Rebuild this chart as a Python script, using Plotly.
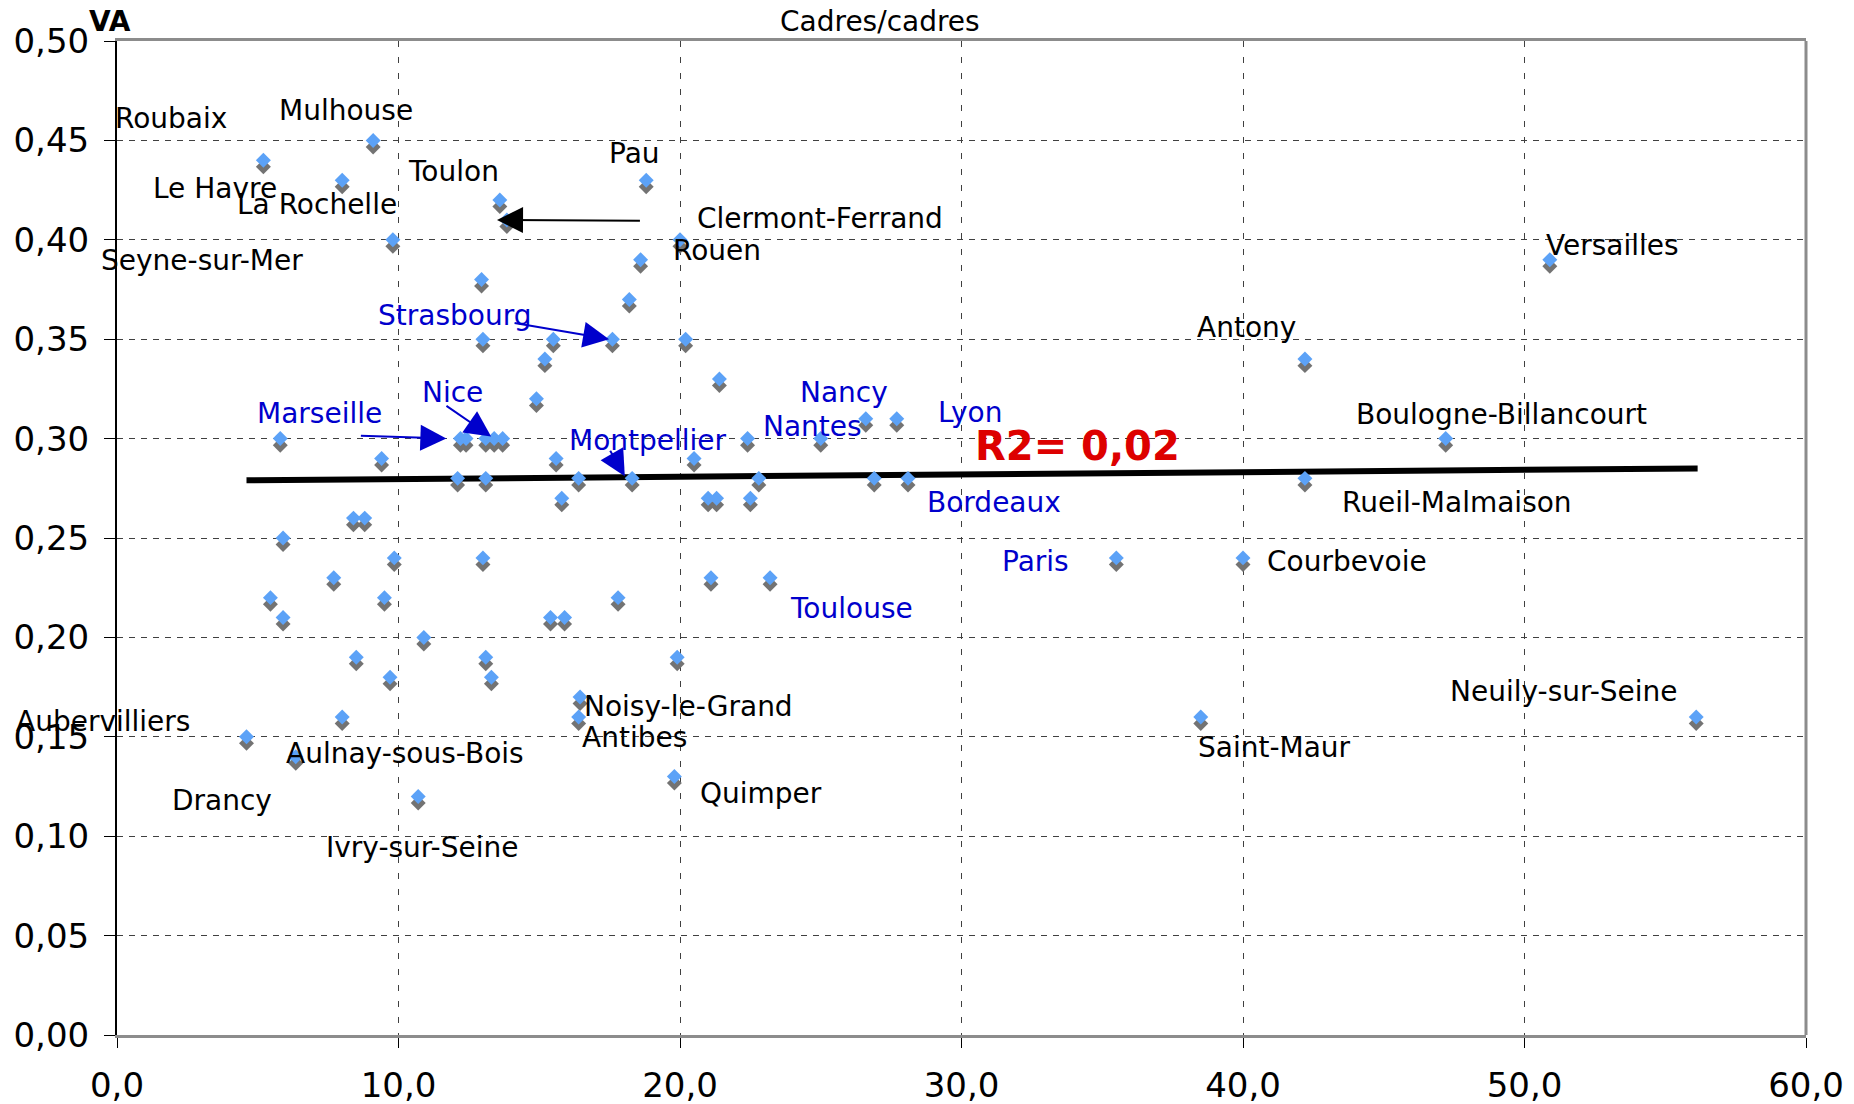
import plotly.graph_objects as go

# ---- data: scatter points (x = Cadres/cadres, y = VA) ----
pts_x = [5.2, 9.1, 8.0, 13.6, 13.85, 18.8, 20.0, 9.8, 18.6, 12.95, 18.2, 13.0, 15.5, 17.6,
         20.2, 15.2, 21.4, 14.9, 5.8, 12.2, 12.4, 13.1, 13.4, 13.7, 22.4, 25.0, 26.6, 27.7,
         47.2, 50.9, 42.2, 9.4, 15.6, 20.5, 12.1, 13.1, 16.4, 18.3, 22.8, 26.9, 28.1, 42.2,
         15.8, 21.0, 21.3, 22.5, 8.4, 8.8, 5.9, 9.85, 13.0, 35.5, 40.0, 7.7, 21.1, 23.2,
         5.45, 9.5, 17.8, 5.9, 15.4, 15.9, 10.9, 8.5, 13.1, 19.9, 9.7, 13.3, 16.45, 8.0,
         16.4, 38.5, 56.1, 4.6, 6.35, 19.8, 10.7]
pts_y = [0.44, 0.45, 0.43, 0.42, 0.41, 0.43, 0.40, 0.40, 0.39, 0.38, 0.37, 0.35, 0.35, 0.35,
         0.35, 0.34, 0.33, 0.32, 0.30, 0.30, 0.30, 0.30, 0.30, 0.30, 0.30, 0.30, 0.31, 0.31,
         0.30, 0.39, 0.34, 0.29, 0.29, 0.29, 0.28, 0.28, 0.28, 0.28, 0.28, 0.28, 0.28, 0.28,
         0.27, 0.27, 0.27, 0.27, 0.26, 0.26, 0.25, 0.24, 0.24, 0.24, 0.24, 0.23, 0.23, 0.23,
         0.22, 0.22, 0.22, 0.21, 0.21, 0.21, 0.20, 0.19, 0.19, 0.19, 0.18, 0.18, 0.17, 0.16,
         0.16, 0.16, 0.16, 0.15, 0.14, 0.13, 0.12]

# trend line endpoints
trend_x = [4.6, 56.15]
trend_y = [0.279, 0.285]

# city labels
lab_text = ["Roubaix", "Mulhouse", "Le Havre", "La Rochelle", "Toulon", "Pau",
            "Clermont-Ferrand", "Rouen", "Seyne-sur-Mer", "Versailles", "Strasbourg",
            "Antony", "Nice", "Nancy", "Marseille", "Lyon", "Boulogne-Billancourt",
            "Nantes", "Montpellier", "Bordeaux", "Rueil-Malmaison", "Paris", "Courbevoie",
            "Toulouse", "Neuily-sur-Seine", "Noisy-le-Grand", "Antibes", "Saint-Maur",
            "Aulnay-sous-Bois", "Quimper", "Drancy", "Ivry-sur-Seine"]
lab_x = [1.93, 8.15, 3.47, 7.12, 11.97, 18.4, 24.99, 21.32, 3.02, 53.13, 11.99,
         40.12, 11.93, 25.83, 7.18, 30.31, 49.2, 24.72, 18.88, 31.14, 47.61, 32.64, 43.7,
         26.1, 51.39, 20.31, 18.4, 41.12, 10.23, 22.89, 3.74, 10.82]
lab_y = [0.461, 0.465, 0.426, 0.4177, 0.4344, 0.4433, 0.4106, 0.3945, 0.3898, 0.3969, 0.3618,
         0.3559, 0.3231, 0.3231, 0.3125, 0.313, 0.3119, 0.306, 0.2988, 0.2679, 0.2679, 0.2381,
         0.2381, 0.2143, 0.1727, 0.165, 0.1495, 0.1447, 0.1417, 0.1216, 0.118, 0.0942]
lab_blue = ["Strasbourg", "Nice", "Nancy", "Marseille", "Lyon", "Nantes", "Montpellier",
            "Bordeaux", "Paris", "Toulouse"]
# label anchored by its right edge (left edge lies outside the axis)
right_text = ["Aubervilliers"]
right_x = [2.65]
right_y = [0.1575]

# arrows: (tail x, tail y) -> (head x, head y)
arr_tail_x = [18.63, 14.07, 8.61, 11.65, 17.49]
arr_tail_y = [0.4096, 0.3583, 0.3015, 0.317, 0.2946]
arr_head_x = [13.5, 17.48, 11.7, 13.29, 18.04]
arr_head_y = [0.410, 0.350, 0.300, 0.301, 0.281]
arr_color = ["#000000", "#0000CC", "#0000CC", "#0000CC", "#0000CC"]

x_ticks = [0, 10, 20, 30, 40, 50, 60]
x_ticktext = ["0,0", "10,0", "20,0", "30,0", "40,0", "50,0", "60,0"]
y_ticks = [0.0, 0.05, 0.10, 0.15, 0.20, 0.25, 0.30, 0.35, 0.40, 0.45, 0.50]
y_ticktext = ["0,00", "0,05", "0,10", "0,15", "0,20", "0,25", "0,30", "0,35", "0,40", "0,45", "0,50"]

SHADOW = 0.0033
FONT = "Verdana, DejaVu Sans, sans-serif"
BLUE_TXT = "#0000CC"

fig = go.Figure()
fig.add_trace(go.Scatter(x=trend_x, y=trend_y, mode="lines",
                         line=dict(color="#000000", width=6), hoverinfo="skip"))
fig.add_trace(go.Scatter(x=pts_x, y=[v - SHADOW for v in pts_y], mode="markers",
                         marker=dict(symbol="diamond", size=11.5, color="#737373", line=dict(width=0)),
                         hoverinfo="skip"))
fig.add_trace(go.Scatter(x=pts_x, y=pts_y, mode="markers",
                         marker=dict(symbol="diamond", size=11.5, color="#5CA2F7", line=dict(width=0))))

ann = []
for t, x, y in zip(lab_text, lab_x, lab_y):
    ann.append(dict(x=x, y=y, xref="x", yref="y", text=t, showarrow=False,
                    xanchor="center", yanchor="middle",
                    font=dict(family=FONT, size=28, color=BLUE_TXT if t in lab_blue else "#000000")))
for t, x, y in zip(right_text, right_x, right_y):
    ann.append(dict(x=x, y=y, xref="x", yref="y", text=t, showarrow=False,
                    xanchor="right", yanchor="middle",
                    font=dict(family=FONT, size=28, color="#000000")))
for tx, ty, hx, hy, c in zip(arr_tail_x, arr_tail_y, arr_head_x, arr_head_y, arr_color):
    ann.append(dict(x=hx, y=hy, ax=tx, ay=ty, xref="x", yref="y", axref="x", ayref="y",
                    text="", showarrow=True, arrowhead=2, arrowsize=2.6, arrowwidth=2,
                    arrowcolor=c, standoff=0))
ann.append(dict(x=34.11, y=0.2964, xref="x", yref="y", text="<b>R2= 0,02</b>", showarrow=False,
                xanchor="center", yanchor="middle",
                font=dict(family=FONT, size=40, color="#DD0000")))
ann.append(dict(x=-0.018, y=1.02, xref="paper", yref="paper", text="<b>VA</b>", showarrow=False,
                xanchor="left", yanchor="middle", font=dict(family=FONT, size=28, color="#000000")))
ann.append(dict(x=0.4517, y=1.02, xref="paper", yref="paper", text="Cadres/cadres", showarrow=False,
                xanchor="center", yanchor="middle", font=dict(family=FONT, size=28, color="#000000")))

fig.update_layout(
    width=1846, height=1096,
    margin=dict(l=109, r=48, t=33, b=69, pad=0, autoexpand=False),
    paper_bgcolor="#FFFFFF", plot_bgcolor="#FFFFFF",
    showlegend=False,
    annotations=ann,
    shapes=[dict(type="line", xref="paper", yref="paper", x0=1, x1=1, y0=0, y1=1,
                 line=dict(color="#8C8C8C", width=3))],
    font=dict(family=FONT, color="#000000"),
)
fig.update_xaxes(range=[0, 60], tickvals=x_ticks, ticktext=x_ticktext, automargin=False,
                 tickfont=dict(family=FONT, size=34, color="#000000"),
                 showgrid=True, gridcolor="#404040", gridwidth=1, griddash="6px,10px",
                 zeroline=False, showline=True, linecolor="#8C8C8C", linewidth=3, mirror=True,
                 ticks="outside", ticklen=10, tickcolor="#000000", tickwidth=1,
                 ticklabelstandoff=8)
fig.update_yaxes(range=[0, 0.5], tickvals=y_ticks, ticktext=y_ticktext, automargin=False,
                 tickfont=dict(family=FONT, size=34, color="#000000"),
                 showgrid=True, gridcolor="#404040", gridwidth=1, griddash="6px,6px",
                 zeroline=False, showline=True, linecolor="#000000", linewidth=2,
                 ticks="outside", ticklen=11, tickcolor="#000000", tickwidth=1,
                 ticklabelstandoff=8)

fig.write_html("out.html")
